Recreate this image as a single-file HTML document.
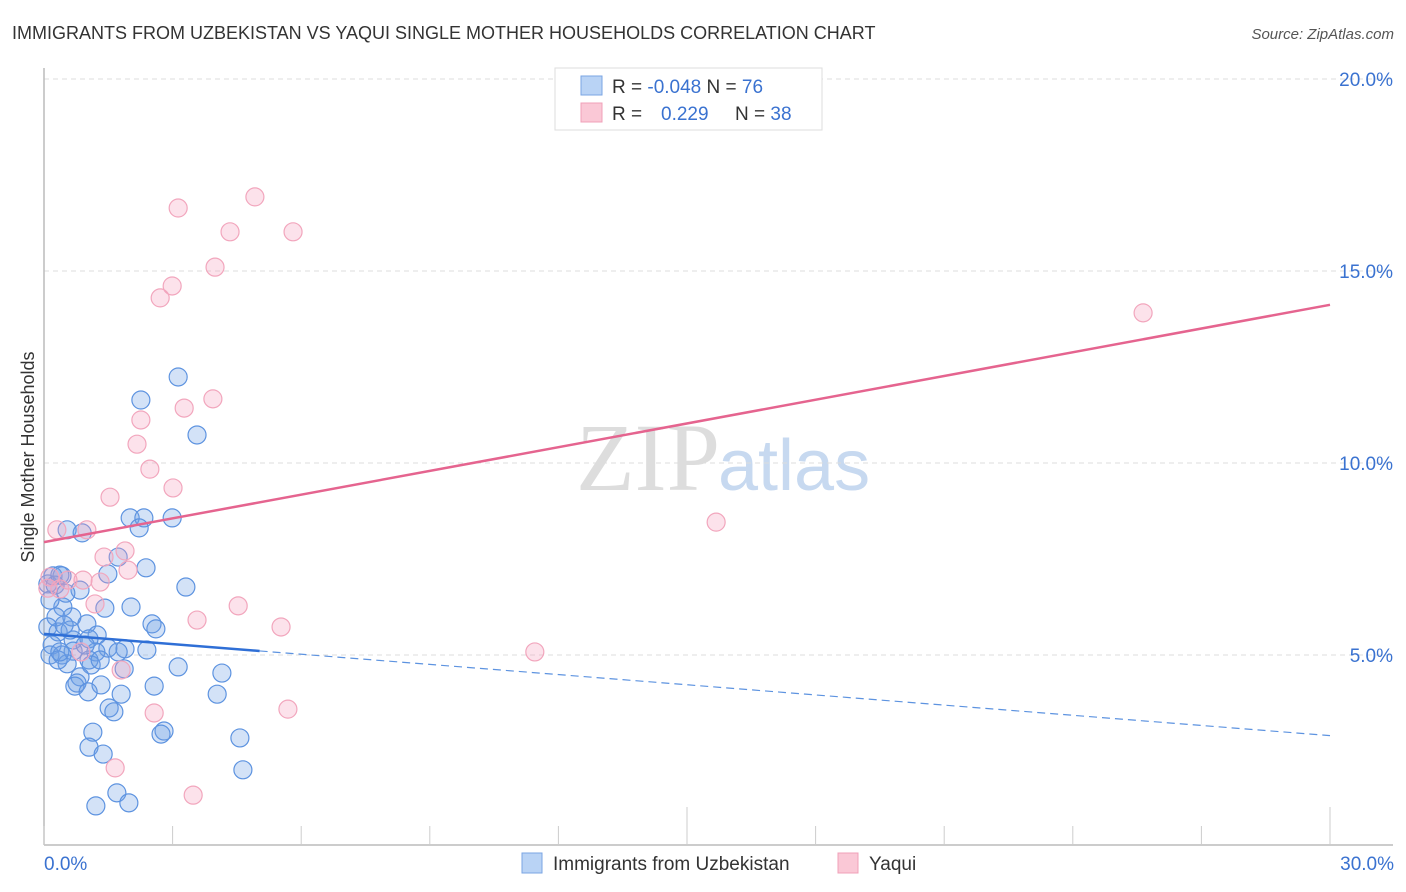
<!DOCTYPE html>
<html><head><meta charset="utf-8"><style>
body{margin:0;background:#fff;font-family:"Liberation Sans",sans-serif;}
svg{display:block}
</style></head><body>
<svg id="chart" width="1406" height="892">
<text x="12" y="39" font-size="18" fill="#333">IMMIGRANTS FROM UZBEKISTAN VS YAQUI SINGLE MOTHER HOUSEHOLDS CORRELATION CHART</text>
<text x="1394" y="39" font-size="15" fill="#555" font-style="italic" text-anchor="end">Source: ZipAtlas.com</text>
<text x="720" y="490" font-size="96" fill="#ddd" text-anchor="end" font-family="Liberation Serif">ZIP</text>
<text x="718" y="490" font-size="72" fill="#c7d9f0">atlas</text>
<text transform="translate(34,457) rotate(-90)" font-size="18" fill="#333" text-anchor="middle">Single Mother Households</text>
<g id="grid"></g><g id="axes"></g><g id="pts"></g><g id="lines"></g>
<g>
<rect x="555" y="68" width="267" height="62" fill="#fff" stroke="#ddd"/>
<rect x="581" y="76" width="21" height="19" fill="#b9d3f5" stroke="#7aa5e3"/>
<rect x="581" y="103" width="21" height="19" fill="#fac8d6" stroke="#f0a0b8"/>
<text x="612" y="93" font-size="19" fill="#333">R = <tspan fill="#3a72d0">-0.048</tspan>   N = <tspan fill="#3a72d0">76</tspan></text>
<text x="612" y="120" font-size="19" fill="#333">R = <tspan fill="#3a72d0" x="661">0.229</tspan><tspan x="735">N = </tspan><tspan fill="#3a72d0">38</tspan></text>
</g>
<g>
<rect x="522" y="853" width="20" height="20" fill="#b9d3f5" stroke="#7aa5e3"/>
<text x="553" y="870" font-size="19" fill="#333">Immigrants from Uzbekistan</text>
<rect x="838" y="853" width="20" height="20" fill="#fac8d6" stroke="#f0a0b8"/>
<text x="869" y="870" font-size="19" fill="#333">Yaqui</text>
</g>
</svg>
<script>
const yTicks=[5,10,15,20];
const yTickLabels=["5.0%","10.0%","15.0%","20.0%"];
const xTicks=[0,3,6,9,12,15,18,21,24,27,30];
const xEndLabels=["0.0%","30.0%"];
const blueX=[3.13,2.26,3.57,0.54,0.89,2.01,2.33,2.22,2.99,1.73,2.38,1.49,0.21,0.42,0.09,0.84,3.31,1.42,2.03,0.44,0.28,0.65,1.00,2.52,2.61,0.09,0.33,1.24,1.05,0.68,0.19,1.49,1.89,2.40,1.21,0.68,0.14,0.42,1.05,0.54,1.10,3.13,1.87,4.15,0.84,0.77,1.33,2.57,0.72,1.03,1.80,4.04,1.52,1.63,1.14,2.80,2.73,4.57,1.05,1.38,4.64,1.70,1.21,1.98,0.14,0.26,0.51,0.37,0.61,0.96,1.31,0.33,0.47,1.73,0.37];
const blueY=[12.24,11.64,10.73,8.26,8.18,8.57,8.57,8.31,8.57,7.55,7.27,7.11,7.06,7.06,6.85,6.69,6.77,6.22,6.25,6.25,5.99,5.99,5.81,5.81,5.68,5.73,5.60,5.52,5.42,5.39,5.26,5.18,5.16,5.13,5.08,5.10,5.00,5.00,4.87,4.77,4.74,4.69,4.64,4.53,4.43,4.27,4.22,4.19,4.19,4.04,3.98,3.98,3.62,3.52,2.99,3.02,2.94,2.84,2.60,2.42,2.01,1.41,1.07,1.15,6.43,6.82,6.61,7.08,5.65,5.26,4.87,4.87,5.78,5.08,5.08];
const pinkX=[4.92,3.13,4.34,5.81,3.99,2.99,2.71,3.94,3.27,2.26,2.17,2.47,3.01,1.54,1.00,0.30,1.40,1.89,1.96,0.91,1.31,0.56,0.14,0.37,0.09,1.19,3.57,4.53,5.53,11.45,15.68,25.64,0.86,1.80,2.57,5.69,1.66,3.48];
const pinkY=[16.93,16.64,16.02,16.02,15.10,14.61,14.30,11.67,11.43,11.12,10.49,9.84,9.35,9.11,8.26,8.26,7.55,7.71,7.21,6.95,6.90,6.95,7.03,6.72,6.74,6.33,5.91,6.28,5.73,5.08,8.46,13.91,5.08,4.61,3.49,3.59,2.06,1.35];
const blueTrend=[5.55,2.9];
const blueSolidEnd=5.03;
const pinkTrend=[7.94,14.12];

const X=v=>44+v*(1286/30);
const Y=v=>847-v*38.4;
const NS="http://www.w3.org/2000/svg";
function mk(tag,parent,attrs){const e=document.createElementNS(NS,tag);for(const k in attrs)e.setAttribute(k,attrs[k]);document.getElementById(parent).appendChild(e);return e;}
yTicks.forEach((t,i)=>{
 const g=mk('line','grid',{x1:44,x2:1393,y1:Y(t),y2:Y(t),stroke:'#ddd','stroke-dasharray':'5,4'});
 
 
 const l=mk('text','axes',{x:1393,y:Y(t)+7,'font-size':19,fill:'#3a72d0','text-anchor':'end'});
 l.textContent=yTickLabels[i];
 
 
});
const ax=mk('line','axes',{x1:44,x2:1393,y1:845,y2:845,stroke:'#bbb','stroke-width':1.5});


const ay=mk('line','axes',{x1:44,x2:44,y1:68,y2:845,stroke:'#bbb','stroke-width':1.5});


xTicks.forEach(t=>{
 const tall=(t===15||t===30);
 const k=mk('line','axes',{x1:X(t),x2:X(t),y1:tall?807:826,y2:845,stroke:'#ccc'});
 
 
});
const l0=mk('text','axes',{x:44,y:870,'font-size':19,fill:'#3a72d0'});l0.textContent=xEndLabels[0];


const l1=mk('text','axes',{x:1394,y:870,'font-size':19,fill:'#3a72d0','text-anchor':'end'});l1.textContent=xEndLabels[1];


blueX.forEach((x,i)=>{
 const c=mk('circle','pts',{cx:X(x),cy:Y(blueY[i]),r:9,fill:'rgba(110,160,230,0.3)',stroke:'#5d93e0','stroke-width':1.2});
 
 
});
pinkX.forEach((x,i)=>{
 const c=mk('circle','pts',{cx:X(x),cy:Y(pinkY[i]),r:9,fill:'rgba(245,160,190,0.3)',stroke:'#f2a6bd','stroke-width':1.2});
 
 
});
const bAt=x=>blueTrend[0]+(blueTrend[1]-blueTrend[0])*x/30;
const b1=mk('line','lines',{x1:X(0),y1:Y(bAt(0)),x2:X(blueSolidEnd),y2:Y(bAt(blueSolidEnd)),stroke:'#2f6fd6','stroke-width':2.5});


const b2=mk('line','lines',{x1:X(blueSolidEnd),y1:Y(bAt(blueSolidEnd)),x2:X(30),y2:Y(bAt(30)),stroke:'#5d93e0','stroke-width':1.2,'stroke-dasharray':'8,5'});


const p=mk('line','lines',{x1:X(0),y1:Y(pinkTrend[0]),x2:X(30),y2:Y(pinkTrend[1]),stroke:'#e5648f','stroke-width':2.5});


</script>
</body></html>
